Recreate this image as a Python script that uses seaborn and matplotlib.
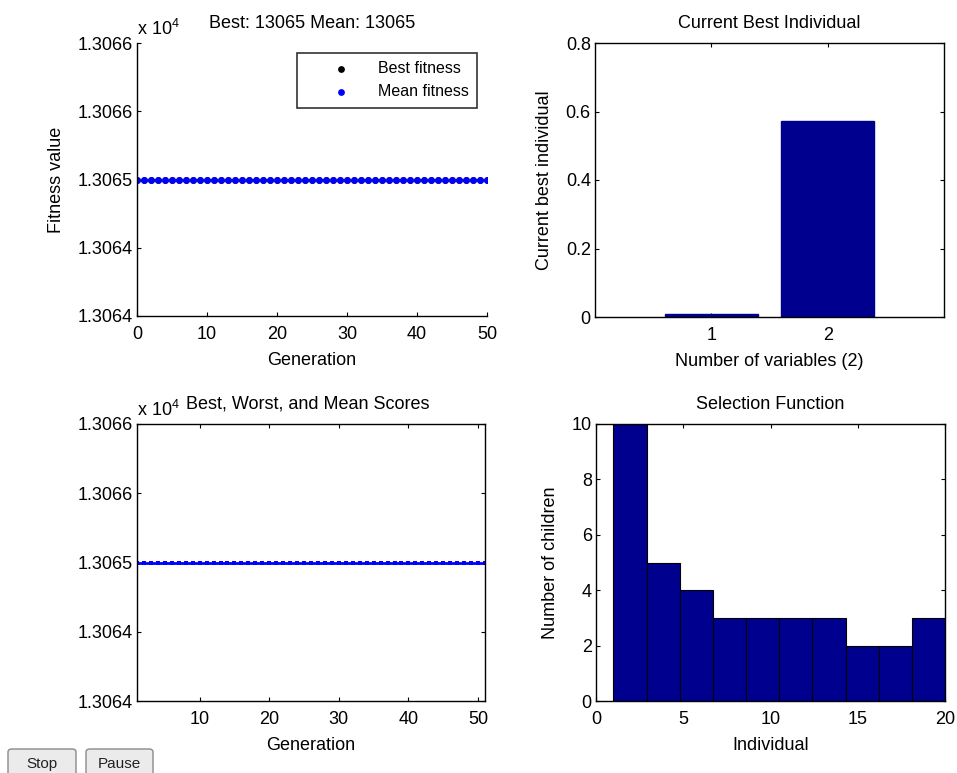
import numpy as np
import pandas as pd
import matplotlib
matplotlib.use("Agg")
import matplotlib.pyplot as plt
from matplotlib.patches import FancyBboxPatch
from matplotlib.ticker import FuncFormatter
import seaborn as sns

# GA run state as shown by the plot functions
generations = list(range(0, 51))
best_fitness = [
    13064.9, 13064.9, 13064.9, 13064.9, 13064.9, 13064.9, 13064.9, 13064.9, 13064.9, 13064.9,
    13064.9, 13064.9, 13064.9, 13064.9, 13064.9, 13064.9, 13064.9, 13064.9, 13064.9, 13064.9,
    13064.9, 13064.9, 13064.9, 13064.9, 13064.9, 13064.9, 13064.9, 13064.9, 13064.9, 13064.9,
    13064.9, 13064.9, 13064.9, 13064.9, 13064.9, 13064.9, 13064.9, 13064.9, 13064.9, 13064.9,
    13064.9, 13064.9, 13064.9, 13064.9, 13064.9, 13064.9, 13064.9, 13064.9, 13064.9, 13064.9,
    13064.9,
]
mean_fitness = list(best_fitness)  # population has converged, mean == best

score_generations = list(range(1, 52))
score_mean = list(best_fitness)

variables = [1, 2]
best_individual = [0.009, 0.572]

# selection histogram: 10 bins over individuals 1..20
n_bins = 10
individual_range = (1, 20)
bin_edges = np.linspace(*individual_range, n_bins + 1)
bin_centers = (bin_edges[:-1] + bin_edges[1:]) / 2
children_counts = [10, 5, 4, 3, 3, 3, 3, 2, 2, 3]

NAVY = "#00008F"
W, H = 957, 773

sns.set_theme(style="ticks")
plt.rcParams["font.family"] = ["Liberation Sans", "DejaVu Sans"]
plt.rcParams["mathtext.fontset"] = "custom"
plt.rcParams["mathtext.rm"] = "Liberation Sans"
plt.rcParams["axes.linewidth"] = 1.0
plt.rcParams["axes.edgecolor"] = "black"
plt.rcParams["text.color"] = "black"
plt.rcParams["axes.labelcolor"] = "black"
plt.rcParams["xtick.color"] = "black"
plt.rcParams["ytick.color"] = "black"

FS = 13


def px_axes(fig, left, top, right, bottom):
    return fig.add_axes([left / W, 1 - bottom / H, (right - left) / W, (bottom - top) / H])


def style_ticks(ax, box=True):
    ax.tick_params(direction="in", length=3, width=0.8, labelsize=FS, top=box, right=box)
    ax.tick_params(axis="x", pad=7.5)
    ax.tick_params(axis="y", pad=3)


def sci_label(ax):
    ax.text(0.0, 1.015, r"x 10$^{\mathregular{4}}$", transform=ax.transAxes,
            ha="left", va="bottom", fontsize=FS)


fig = plt.figure(figsize=(W / 100, H / 100), dpi=100)
fig.patch.set_facecolor("white")

# --- top left: best / mean fitness
ax1 = px_axes(fig, 137, 43, 487, 316)
sns.scatterplot(x=generations, y=best_fitness, color="black", s=24, linewidth=0,
                label="Best fitness", ax=ax1)
sns.scatterplot(x=generations, y=mean_fitness, color="#0000FF", s=24, linewidth=0,
                label="Mean fitness", ax=ax1)
ax1.set_xlim(0, 50)
ax1.set_xticks(range(0, 51, 10))
fit_ticks = [13063.6, 13064.25, 13064.9, 13065.55, 13066.2]
ax1.set_ylim(fit_ticks[0], fit_ticks[-1])
ax1.set_yticks(fit_ticks)
ax1.yaxis.set_major_formatter(FuncFormatter(lambda v, p: f"{v / 1e4:.4f}"))
sns.despine(ax=ax1)
style_ticks(ax1, box=False)
ax1.set_xlabel("Generation", fontsize=FS, labelpad=6)
ax1.set_ylabel("Fitness value", fontsize=FS, labelpad=9)
ax1.set_title(f"Best: {best_fitness[-1]:.0f} Mean: {mean_fitness[-1]:.0f}", fontsize=FS, pad=11)
sci_label(ax1)
leg = ax1.legend(loc="upper right", bbox_to_anchor=(1, 1), fontsize=11.5, frameon=True,
                 fancybox=False, edgecolor="black", handlelength=4.4, handletextpad=0.1,
                 borderpad=0.55, labelspacing=0.5, borderaxespad=0.6, markerscale=1.0)
leg.get_frame().set_linewidth(1.2)

# --- top right: current best individual
ax2 = px_axes(fig, 595, 43, 944, 317)
sns.barplot(x=variables, y=best_individual, native_scale=True, color=NAVY,
            saturation=1, width=0.8, errorbar=None, ax=ax2)
for bar in ax2.patches:
    bar.set_edgecolor(NAVY)
ax2.set_xlim(0, 3)
ax2.set_xticks(variables)
ax2.set_xticklabels([str(v) for v in variables])
ax2.set_ylim(0, 0.8)
ax2.set_yticks([0, 0.2, 0.4, 0.6, 0.8])
ax2.yaxis.set_major_formatter(FuncFormatter(lambda v, p: f"{v:g}"))
style_ticks(ax2)
ax2.set_xlabel(f"Number of variables ({len(variables)})", fontsize=FS, labelpad=6)
ax2.set_ylabel("Current best individual", fontsize=FS, labelpad=9)
ax2.set_title("Current Best Individual", fontsize=FS, pad=11)

# --- bottom left: best, worst, mean scores
ax3 = px_axes(fig, 137, 424, 485, 701)
sns.lineplot(x=score_generations, y=score_mean, color="#0000FF", marker="s",
             markersize=3.2, markeredgewidth=0, linewidth=2, ax=ax3)
ax3.set_xlim(1, 51)
ax3.set_xticks(range(10, 51, 10))
ax3.set_ylim(fit_ticks[0], fit_ticks[-1])
ax3.set_yticks(fit_ticks)
ax3.yaxis.set_major_formatter(FuncFormatter(lambda v, p: f"{v / 1e4:.4f}"))
style_ticks(ax3)
ax3.set_xlabel("Generation", fontsize=FS, labelpad=6)
ax3.set_title("Best, Worst, and Mean Scores", fontsize=FS, pad=11, x=0.49)
sci_label(ax3)

# --- bottom right: selection function histogram
sel = pd.DataFrame({"individual": bin_centers, "children": children_counts})
ax4 = px_axes(fig, 596, 424, 945, 701)
sns.histplot(data=sel, x="individual", weights="children", bins=n_bins,
             binrange=individual_range, color=NAVY, alpha=1, edgecolor="black",
             linewidth=0.8, ax=ax4)
ax4.set_xlim(0, 20)
ax4.set_xticks(range(0, 21, 5))
ax4.set_ylim(0, 10)
ax4.set_yticks(range(0, 11, 2))
style_ticks(ax4)
ax4.set_xlabel("Individual", fontsize=FS, labelpad=6)
ax4.set_ylabel("Number of children", fontsize=FS, labelpad=9)
ax4.set_title("Selection Function", fontsize=FS, pad=11)

# --- Stop / Pause buttons
for label, x0, x1 in [("Stop", 8, 76), ("Pause", 86, 153)]:
    btn = FancyBboxPatch((x0 / W, 1 - 785 / H), (x1 - x0) / W, 36 / H,
                         boxstyle="round,pad=0,rounding_size=0.004",
                         transform=fig.transFigure, facecolor="#EBEBEB",
                         edgecolor="#8A8A8A", linewidth=1)
    fig.patches.append(btn)
    fig.text((x0 + x1) / 2 / W, 1 - 764 / H, label, ha="center", va="center",
             fontsize=11, color="#222222")

fig.savefig("out.png", dpi=100, facecolor="white")
